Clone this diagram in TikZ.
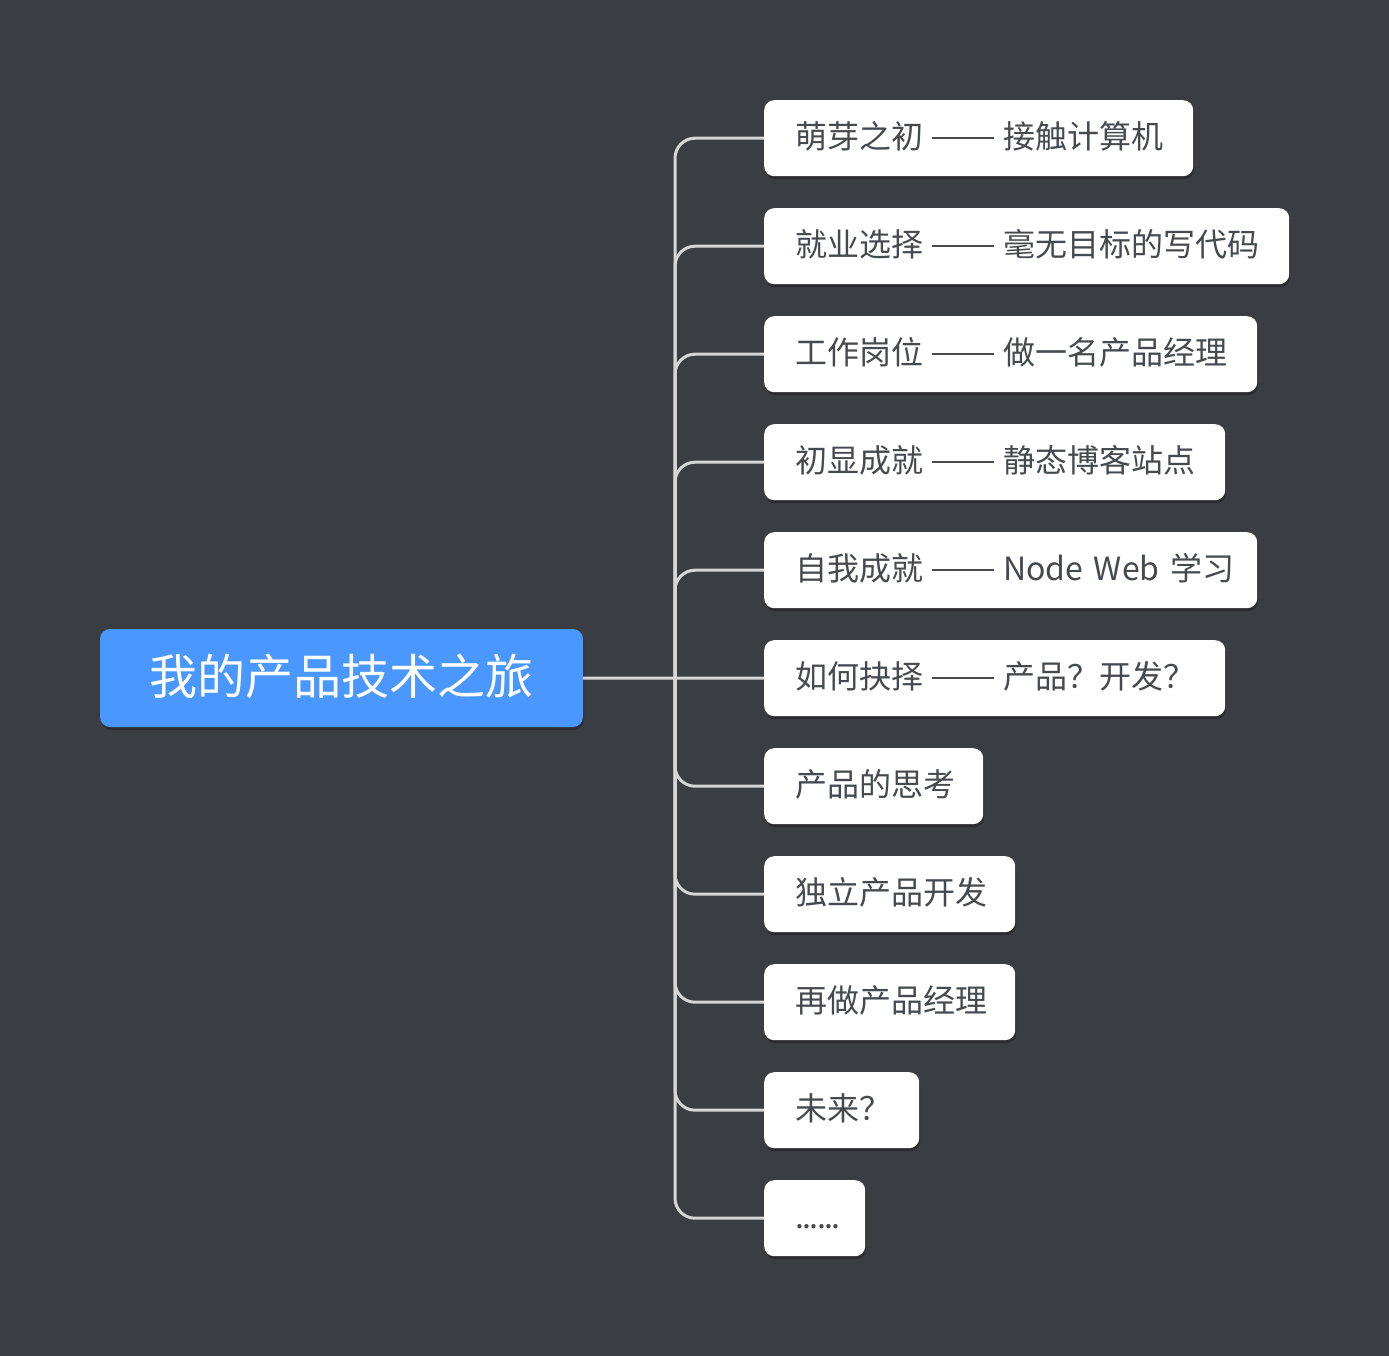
\documentclass[tikz,border=0pt]{standalone}
\usepackage{fontspec}
\setmainfont{Noto Sans CJK SC}
\usetikzlibrary{shadows}
\definecolor{bg}{HTML}{3A3D42}
\definecolor{rootblue}{HTML}{4A97FF}
\definecolor{conncol}{HTML}{D6D6D6}
\definecolor{txt}{HTML}{454A4F}
\newcommand\dsh{\hspace{9pt}\rule[9pt]{62pt}{2pt}\hspace{9pt}}
\newcommand\sixdots{.\kern-1.6pt.\kern-1.6pt.\kern-1.6pt.\kern-1.6pt.\kern-1.6pt.}
\tikzset{
  topic/.style={fill=white, rounded corners=10pt, anchor=north west, inner xsep=31pt, inner ysep=0pt,
    minimum height=76pt, text=txt, align=left, font=\fontsize{32}{32}\selectfont,
    text height=28pt, text depth=8pt,
    drop shadow={shadow xshift=1pt, shadow yshift=-3pt, opacity=0.25, fill=black}},
  roottopic/.style={fill=rootblue, rounded corners=10pt, minimum width=483pt, minimum height=98pt,
    inner sep=0pt, text=white, font=\fontsize{48}{48}\selectfont, text height=40pt, text depth=8pt,
    drop shadow={shadow xshift=1pt, shadow yshift=-3pt, opacity=0.25, fill=black}},
  conn/.style={draw=conncol, line width=3pt, rounded corners=20pt}
}
\begin{document}
\begin{tikzpicture}[x=1pt,y=-1pt]
\fill[bg] (0,0) rectangle (1389,1356);
\useasboundingbox (0,0) rectangle (1389,1356);
\node[roottopic] (root) at (341.5,678) {我的产品技术之旅};
\node[topic, text width=367pt] (c1) at (764,100) {\mbox{萌芽之初\dsh 接触计算机}};
\node[topic, text width=463pt] (c2) at (764,208) {\mbox{就业选择\dsh 毫无目标的写代码}};
\node[topic, text width=431pt] (c3) at (764,316) {\mbox{工作岗位\dsh 做一名产品经理}};
\node[topic, text width=399pt] (c4) at (764,424) {\mbox{初显成就\dsh 静态博客站点}};
\node[topic, text width=431pt] (c5) at (764,532) {\mbox{自我成就\dsh Node Web 学习}};
\node[topic, text width=399pt] (c6) at (764,640) {\mbox{如何抉择\dsh 产品？开发？}};
\node[topic, text width=157pt] (c7) at (764,748) {\mbox{产品的思考}};
\node[topic, text width=189pt] (c8) at (764,856) {\mbox{独立产品开发}};
\node[topic, text width=189pt] (c9) at (764,964) {\mbox{再做产品经理}};
\node[topic, text width=93pt] (c10) at (764,1072) {\mbox{未来？}};
\node[topic, text width=39pt] (c11) at (764,1180) {\mbox{\sixdots}};
\coordinate (j) at (675,678);
\foreach \k in {1,2,3,4,5,7,8,9,10,11} {
  \draw[conn] (j) |- (c\k.west);
}
\draw[conn] (root.east) -- (c6.west);
\end{tikzpicture}
\end{document}
